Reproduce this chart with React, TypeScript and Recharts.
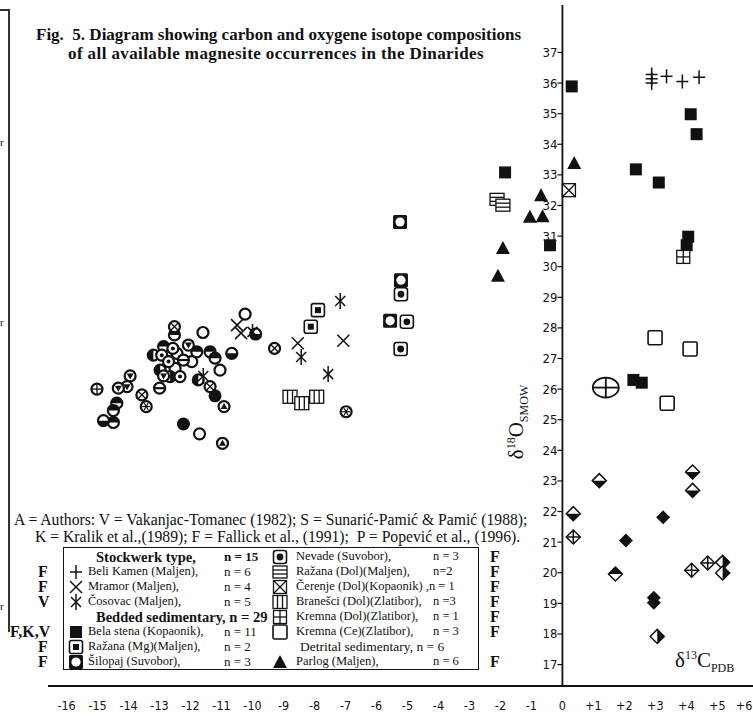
import React from 'react';
import { ScatterChart, Scatter, XAxis, YAxis, ReferenceLine } from 'recharts';

const W = 753;
const H = 719;
const X_MIN = -16.6;
const X_MAX = 6.15;
const Y_MIN = 16.3;
const Y_MAX = 38.55;
const PLOT_LEFT = 48;
const PLOT_TOP = 5;
const PLOT_BOTTOM = 686;
const X0_PX = PLOT_LEFT + ((0 - X_MIN) / (X_MAX - X_MIN)) * (W - PLOT_LEFT);

const xTicks = [-16, -15, -14, -13, -12, -11, -10, -9, -8, -7, -6, -5, -4, -3, -2, -1, 0, 1, 2, 3, 4, 5, 6];
const yTicks = [17, 18, 19, 20, 21, 22, 23, 24, 25, 26, 27, 28, 29, 30, 31, 32, 33, 34, 35, 36, 37];

// Stockwerk type
const beliKamen = [
  { x: 2.88, y: 36.28 }, { x: 2.88, y: 36.14 }, { x: 2.88, y: 36.0 },
  { x: 3.36, y: 36.22 }, { x: 3.87, y: 36.05 }, { x: 4.41, y: 36.19 },
];
const mramor = [{ x: -10.5, y: 28.09 }, { x: -10.37, y: 27.83 }, { x: -8.54, y: 27.5 }, { x: -7.07, y: 27.58 }];
const cosovac = [
  { x: -7.17, y: 28.88 }, { x: -8.43, y: 27.05 }, { x: -7.56, y: 26.49 }, { x: -11.59, y: 26.43 }, { x: -10.0, y: 27.87 },
];

// Bedded sedimentary
const belaStena = [
  { x: 0.3, y: 35.89 }, { x: 4.14, y: 34.98 }, { x: 4.33, y: 34.33 }, { x: 2.37, y: 33.18 },
  { x: 3.11, y: 32.75 }, { x: -1.85, y: 33.08 }, { x: 4.06, y: 30.98 }, { x: 4.01, y: 30.7 },
  { x: -0.4, y: 30.7 }, { x: 2.29, y: 26.3 }, { x: 2.56, y: 26.21 },
];
const razanaMg = [{ x: -7.89, y: 28.58 }, { x: -8.12, y: 28.04 }];
const silopaj = [{ x: -5.24, y: 31.46 }, { x: -5.21, y: 29.56 }, { x: -5.56, y: 28.23 }];
const nevade = [{ x: -5.21, y: 29.1 }, { x: -5.02, y: 28.2 }, { x: -5.22, y: 27.31 }];
const razanaDol = [{ x: -2.11, y: 32.2 }, { x: -1.92, y: 32.01 }];
const cerenje = [{ x: 0.21, y: 32.5 }];
const branesci = [{ x: -8.79, y: 25.75 }, { x: -8.41, y: 25.54 }, { x: -7.93, y: 25.75 }];
const kremnaDol = [{ x: 3.9, y: 30.32 }];
const kremnaCe = [{ x: 2.99, y: 27.68 }, { x: 4.12, y: 27.31 }, { x: 3.38, y: 25.54 }];

// Detrital sedimentary
const parlog = [
  { x: 0.38, y: 33.39 }, { x: -0.69, y: 32.33 }, { x: -1.05, y: 31.63 },
  { x: -0.64, y: 31.65 }, { x: -1.92, y: 30.61 }, { x: -2.08, y: 29.7 },
];

const meanPoint = [{ x: 1.4, y: 26.05 }];

// diamonds (lower right group)
const dBottomBlack = [{ x: 0.35, y: 21.93 }, { x: 1.19, y: 23.01 }, { x: 4.2, y: 23.29 }, { x: 4.2, y: 22.69 }];
const dTopBlack = [{ x: 1.71, y: 19.96 }];
const dCross = [{ x: 0.35, y: 21.17 }, { x: 4.17, y: 20.08 }, { x: 4.69, y: 20.32 }];
const dFilled = [{ x: 2.05, y: 21.05 }, { x: 3.25, y: 21.81 }, { x: 2.95, y: 19.18 }, { x: 2.95, y: 19.02 }];
const dRightBlack = [{ x: 3.06, y: 17.92 }, { x: 5.17, y: 20.34 }, { x: 5.17, y: 19.99 }];

// circles (left group)
const cOpen = [
  { x: -10.24, y: 28.45 }, { x: -11.6, y: 27.85 }, { x: -12.44, y: 27.17 }, { x: -11.96, y: 26.9 },
  { x: -12.5, y: 26.68 }, { x: -11.05, y: 26.62 }, { x: -11.71, y: 24.54 },
];
const cFilled = [{ x: -11.21, y: 25.78 }, { x: -12.23, y: 24.86 }];
const cHalfTop = [
  { x: -12.52, y: 27.77 }, { x: -12.87, y: 27.39 }, { x: -11.8, y: 27.22 }, { x: -14.38, y: 25.54 },
  { x: -14.49, y: 25.3 }, { x: -14.49, y: 24.91 }, { x: -11.37, y: 27.22 }, { x: -11.21, y: 27.01 },
];
const cHalfBottom = [{ x: -14.81, y: 24.97 }, { x: -10.67, y: 27.17 }, { x: -9.9, y: 27.8 }];
const cHalfLeft = [{ x: -13.2, y: 27.11 }, { x: -12.98, y: 26.62 }, { x: -11.75, y: 26.3 }];
const cHalfRight = [{ x: -12.66, y: 26.41 }];
const cDot = [{ x: -12.93, y: 27.11 }, { x: -12.57, y: 27.33 }, { x: -12.71, y: 26.9 }, { x: -12.34, y: 26.41 }];
const cTriDown = [
  { x: -12.07, y: 27.44 }, { x: -12.87, y: 26.43 }, { x: -13.95, y: 26.43 }, { x: -14.05, y: 26.08 }, { x: -14.33, y: 26.03 },
];
const cTriUp = [{ x: -10.92, y: 25.43 }, { x: -10.97, y: 24.23 }];
const cCross = [{ x: -15.02, y: 26.0 }];
const cXCross = [{ x: -12.52, y: 28.04 }, { x: -13.57, y: 25.81 }, { x: -11.37, y: 26.08 }, { x: -9.29, y: 27.33 }];
const cHbar = [{ x: -12.23, y: 26.95 }, { x: -13.0, y: 26.03 }];
const cStar = [{ x: -13.43, y: 25.43 }, { x: -6.98, y: 25.26 }];

const K = '#111';
const R = 5.5;

type ShapeFn = (cx: number, cy: number) => React.ReactElement;

const circ = (cx: number, cy: number, inner?: React.ReactNode) => (
  <g>
    <circle cx={cx} cy={cy} r={R} fill="#fff" stroke={K} strokeWidth={2.2} />
    {inner}
  </g>
);

const half = (cx: number, cy: number, side: string) => {
  let d = '';
  if (side === 'top') d = `M${cx - R},${cy} A${R},${R} 0 0 1 ${cx + R},${cy} Z`;
  if (side === 'bottom') d = `M${cx - R},${cy} A${R},${R} 0 0 0 ${cx + R},${cy} Z`;
  if (side === 'left') d = `M${cx},${cy - R} A${R},${R} 0 0 0 ${cx},${cy + R} Z`;
  if (side === 'right') d = `M${cx},${cy - R} A${R},${R} 0 0 1 ${cx},${cy + R} Z`;
  return circ(cx, cy, <path d={d} fill={K} />);
};

const diamond = (cx: number, cy: number, d = 7) => `${cx - d},${cy} ${cx},${cy - d} ${cx + d},${cy} ${cx},${cy + d}`;

const shapes: Record<string, ShapeFn> = {
  plus: (cx, cy) => (
    <g stroke={K} strokeWidth={1.5}>
      <line x1={cx - 6} x2={cx + 6} y1={cy} y2={cy} />
      <line x1={cx} x2={cx} y1={cy - 7} y2={cy + 7} />
    </g>
  ),
  cross: (cx, cy) => (
    <g stroke={K} strokeWidth={1.5}>
      <line x1={cx - 6} x2={cx + 6} y1={cy - 6} y2={cy + 6} />
      <line x1={cx - 6} x2={cx + 6} y1={cy + 6} y2={cy - 6} />
    </g>
  ),
  star: (cx, cy) => (
    <g stroke={K} strokeWidth={1.5}>
      <line x1={cx - 5} x2={cx + 5} y1={cy - 5} y2={cy + 5} />
      <line x1={cx - 5} x2={cx + 5} y1={cy + 5} y2={cy - 5} />
      <line x1={cx} x2={cx} y1={cy - 8} y2={cy + 8} />
    </g>
  ),
  filledSq: (cx, cy) => <rect x={cx - 6} y={cy - 6} width={12} height={12} fill={K} />,
  sqDotSq: (cx, cy) => (
    <g>
      <rect x={cx - 6.5} y={cy - 6.5} width={13} height={13} rx={2} fill="#fff" stroke={K} strokeWidth={1.6} />
      <rect x={cx - 3} y={cy - 3} width={6} height={6} fill={K} />
    </g>
  ),
  sqHole: (cx, cy) => (
    <g>
      <rect x={cx - 7} y={cy - 7} width={14} height={14} rx={1.5} fill={K} />
      <circle cx={cx} cy={cy} r={4.6} fill="#fff" />
    </g>
  ),
  sqDot: (cx, cy) => (
    <g>
      <rect x={cx - 6.5} y={cy - 6.5} width={13} height={13} rx={2.5} fill="#fff" stroke={K} strokeWidth={1.6} />
      <circle cx={cx} cy={cy} r={3.4} fill={K} />
    </g>
  ),
  sqHStripe: (cx, cy) => (
    <g stroke={K} strokeWidth={1.3}>
      <rect x={cx - 7} y={cy - 6} width={14} height={12} fill="#fff" />
      <line x1={cx - 7} x2={cx + 7} y1={cy - 2} y2={cy - 2} />
      <line x1={cx - 7} x2={cx + 7} y1={cy + 2} y2={cy + 2} />
    </g>
  ),
  sqX: (cx, cy) => (
    <g stroke={K} strokeWidth={1.3}>
      <rect x={cx - 6.5} y={cy - 6.5} width={13} height={13} fill="#fff" />
      <line x1={cx - 6.5} x2={cx + 6.5} y1={cy - 6.5} y2={cy + 6.5} />
      <line x1={cx - 6.5} x2={cx + 6.5} y1={cy + 6.5} y2={cy - 6.5} />
    </g>
  ),
  sqVStripe: (cx, cy) => (
    <g stroke={K} strokeWidth={1.3}>
      <rect x={cx - 7} y={cy - 6.5} width={14} height={13} fill="#fff" />
      <line x1={cx - 2.5} x2={cx - 2.5} y1={cy - 6.5} y2={cy + 6.5} />
      <line x1={cx + 2.5} x2={cx + 2.5} y1={cy - 6.5} y2={cy + 6.5} />
    </g>
  ),
  sqPlus: (cx, cy) => (
    <g stroke={K} strokeWidth={1.3}>
      <rect x={cx - 6.5} y={cy - 6.5} width={13} height={13} fill="#fff" />
      <line x1={cx - 6.5} x2={cx + 6.5} y1={cy} y2={cy} />
      <line x1={cx} x2={cx} y1={cy - 6.5} y2={cy + 6.5} />
    </g>
  ),
  sqOpen: (cx, cy) => (
    <rect x={cx - 7} y={cy - 7} width={14} height={14} rx={1.5} fill="#fff" stroke={K} strokeWidth={1.6} />
  ),
  triangle: (cx, cy) => <polygon points={`${cx - 7},${cy + 6} ${cx + 7},${cy + 6} ${cx},${cy - 7}`} fill={K} />,
  ellipse: (cx, cy) => (
    <g stroke={K} strokeWidth={1.8} fill="none">
      <ellipse cx={cx} cy={cy} rx={13} ry={10} />
      <line x1={cx - 13} x2={cx + 13} y1={cy} y2={cy} />
      <line x1={cx} x2={cx} y1={cy - 10} y2={cy + 10} />
    </g>
  ),
  dBottom: (cx, cy) => (
    <g>
      <polygon points={diamond(cx, cy)} fill="#fff" stroke={K} strokeWidth={1.5} />
      <polygon points={`${cx - 7},${cy} ${cx + 7},${cy} ${cx},${cy + 7}`} fill={K} />
    </g>
  ),
  dTop: (cx, cy) => (
    <g>
      <polygon points={diamond(cx, cy)} fill="#fff" stroke={K} strokeWidth={1.5} />
      <polygon points={`${cx - 7},${cy} ${cx + 7},${cy} ${cx},${cy - 7}`} fill={K} />
    </g>
  ),
  dRight: (cx, cy) => (
    <g>
      <polygon points={diamond(cx, cy)} fill="#fff" stroke={K} strokeWidth={1.5} />
      <polygon points={`${cx},${cy - 7} ${cx + 7},${cy} ${cx},${cy + 7}`} fill={K} />
    </g>
  ),
  dCross: (cx, cy) => (
    <g stroke={K} strokeWidth={1.5}>
      <polygon points={diamond(cx, cy)} fill="#fff" />
      <line x1={cx - 7} x2={cx + 7} y1={cy} y2={cy} />
      <line x1={cx} x2={cx} y1={cy - 7} y2={cy + 7} />
    </g>
  ),
  dFilled: (cx, cy) => <polygon points={diamond(cx, cy)} fill={K} />,
  cOpen: (cx, cy) => circ(cx, cy),
  cFilled: (cx, cy) => <circle cx={cx} cy={cy} r={R + 1} fill={K} />,
  cHalfTop: (cx, cy) => half(cx, cy, 'top'),
  cHalfBottom: (cx, cy) => half(cx, cy, 'bottom'),
  cHalfLeft: (cx, cy) => half(cx, cy, 'left'),
  cHalfRight: (cx, cy) => half(cx, cy, 'right'),
  cDot: (cx, cy) => circ(cx, cy, <circle cx={cx} cy={cy} r={2} fill={K} />),
  cTriDown: (cx, cy) => circ(cx, cy, <polygon points={`${cx - 3.5},${cy - 2.5} ${cx + 3.5},${cy - 2.5} ${cx},${cy + 3.5}`} fill={K} />),
  cTriUp: (cx, cy) => circ(cx, cy, <polygon points={`${cx - 3.5},${cy + 2.5} ${cx + 3.5},${cy + 2.5} ${cx},${cy - 3.5}`} fill={K} />),
  cCross: (cx, cy) => circ(cx, cy, (
    <g stroke={K} strokeWidth={1.3}>
      <line x1={cx - R} x2={cx + R} y1={cy} y2={cy} />
      <line x1={cx} x2={cx} y1={cy - R} y2={cy + R} />
    </g>
  )),
  cXCross: (cx, cy) => circ(cx, cy, (
    <g stroke={K} strokeWidth={1.3}>
      <line x1={cx - 3.9} x2={cx + 3.9} y1={cy - 3.9} y2={cy + 3.9} />
      <line x1={cx - 3.9} x2={cx + 3.9} y1={cy + 3.9} y2={cy - 3.9} />
    </g>
  )),
  cHbar: (cx, cy) => circ(cx, cy, <line x1={cx - R} x2={cx + R} y1={cy} y2={cy} stroke={K} strokeWidth={2.2} />),
  cStar: (cx, cy) => circ(cx, cy, (
    <g stroke={K} strokeWidth={1.2}>
      <line x1={cx - 4} x2={cx + 4} y1={cy} y2={cy} />
      <line x1={cx - 2} x2={cx + 2} y1={cy - 3.5} y2={cy + 3.5} />
      <line x1={cx - 2} x2={cx + 2} y1={cy + 3.5} y2={cy - 3.5} />
    </g>
  )),
};

const series: { name: string; data: { x: number; y: number }[]; shape: string }[] = [
  { name: 'cOpen', data: cOpen, shape: 'cOpen' },
  { name: 'cFilled', data: cFilled, shape: 'cFilled' },
  { name: 'cHalfTop', data: cHalfTop, shape: 'cHalfTop' },
  { name: 'cHalfBottom', data: cHalfBottom, shape: 'cHalfBottom' },
  { name: 'cHalfLeft', data: cHalfLeft, shape: 'cHalfLeft' },
  { name: 'cHalfRight', data: cHalfRight, shape: 'cHalfRight' },
  { name: 'cDot', data: cDot, shape: 'cDot' },
  { name: 'cTriDown', data: cTriDown, shape: 'cTriDown' },
  { name: 'cTriUp', data: cTriUp, shape: 'cTriUp' },
  { name: 'cCross', data: cCross, shape: 'cCross' },
  { name: 'cXCross', data: cXCross, shape: 'cXCross' },
  { name: 'cHbar', data: cHbar, shape: 'cHbar' },
  { name: 'cStar', data: cStar, shape: 'cStar' },
  { name: 'Beli Kamen', data: beliKamen, shape: 'plus' },
  { name: 'Mramor', data: mramor, shape: 'cross' },
  { name: 'Čosovac', data: cosovac, shape: 'star' },
  { name: 'Bela stena', data: belaStena, shape: 'filledSq' },
  { name: 'Ražana (Mg)', data: razanaMg, shape: 'sqDotSq' },
  { name: 'Šilopaj', data: silopaj, shape: 'sqHole' },
  { name: 'Nevade', data: nevade, shape: 'sqDot' },
  { name: 'Ražana (Dol)', data: razanaDol, shape: 'sqHStripe' },
  { name: 'Čerenje', data: cerenje, shape: 'sqX' },
  { name: 'Branešci', data: branesci, shape: 'sqVStripe' },
  { name: 'Kremna (Dol)', data: kremnaDol, shape: 'sqPlus' },
  { name: 'Kremna (Ce)', data: kremnaCe, shape: 'sqOpen' },
  { name: 'Parlog', data: parlog, shape: 'triangle' },
  { name: 'mean', data: meanPoint, shape: 'ellipse' },
  { name: 'dBottom', data: dBottomBlack, shape: 'dBottom' },
  { name: 'dTop', data: dTopBlack, shape: 'dTop' },
  { name: 'dCross', data: dCross, shape: 'dCross' },
  { name: 'dFilled', data: dFilled, shape: 'dFilled' },
  { name: 'dRight', data: dRightBlack, shape: 'dRight' },
];

const TICK_FONT = "'Liberation Sans Narrow', 'DejaVu Sans Condensed', 'Liberation Sans', sans-serif";

const XTick = ({ x, payload }: any) => (
  <text
    x={Math.min(x, W - 9)}
    y={PLOT_BOTTOM + 19}
    textAnchor="middle"
    dominantBaseline="central"
    fontSize={12.5}
    fontFamily={TICK_FONT}
    fill={K}
  >
    {payload.value > 0 ? `+${payload.value}` : payload.value}
  </text>
);

const YTick = ({ y, payload }: any) => (
  <g>
    <line x1={X0_PX - 5} x2={X0_PX} y1={y} y2={y} stroke={K} strokeWidth={1.2} />
    <text x={X0_PX - 5} y={y} textAnchor="end" dominantBaseline="central" fontSize={13} fontFamily={TICK_FONT} fill={K}>
      {payload.value}
    </text>
  </g>
);

const T = ({ x, y, size = 14, bold = false, spacing = 0, lh = 1, children }: any) => (
  <div
    style={{
      position: 'absolute', left: x, top: y, transform: 'translateY(-50%)', fontSize: size,
      fontWeight: bold ? 700 : 400, whiteSpace: 'pre', lineHeight: lh, color: K, letterSpacing: spacing,
    }}
  >
    {children}
  </div>
);

const Icon = ({ shape }: { shape: string }) => (
  <svg width={18} height={16} style={{ display: 'block' }}>
    {shapes[shape](9, 8)}
  </svg>
);

const ROWS = [557, 572, 587, 602, 617, 632, 647, 662];

const col1 = [
  { head: 'Stockwerk type,', n: 'n = 15' },
  { shape: 'plus', label: 'Beli Kamen (Maljen),', n: 'n = 6' },
  { shape: 'cross', label: 'Mramor (Maljen),', n: 'n = 4' },
  { shape: 'star', label: 'Čosovac (Maljen),', n: 'n = 5' },
  { head: 'Bedded sedimentary, n = 29' },
  { shape: 'filledSq', label: 'Bela stena (Kopaonik),', n: 'n = 11' },
  { shape: 'sqDotSq', label: 'Ražana (Mg)(Maljen),', n: 'n = 2' },
  { shape: 'sqHole', label: 'Šilopaj (Suvobor),', n: 'n = 3' },
];
const col2 = [
  { shape: 'sqDot', label: 'Nevade (Suvobor),', n: 'n = 3' },
  { shape: 'sqHStripe', label: 'Ražana (Dol)(Maljen),', n: 'n=2' },
  { shape: 'sqX', label: 'Čerenje (Dol)(Kopaonik) ,n = 1', n: '' },
  { shape: 'sqVStripe', label: 'Branešci (Dol)(Zlatibor),', n: 'n =3' },
  { shape: 'sqPlus', label: 'Kremna (Dol)(Zlatibor),', n: 'n = 1' },
  { shape: 'sqOpen', label: 'Kremna (Ce)(Zlatibor),', n: 'n = 3' },
  { head: 'Detrital sedimentary, n = 6' },
  { shape: 'triangle', label: 'Parlog (Maljen),', n: 'n = 6' },
];
const leftRefs = ['', 'F', 'F', 'V', '', 'F,K,V', 'F', 'F'];
const rightRefs = ['F', 'F', 'F', 'F', 'F', 'F', '', 'F'];

export default function App() {
  return (
    <div
      style={{
        position: 'absolute', left: 0, top: 0, width: W, height: H, background: '#fff',
        fontFamily: "'Liberation Serif', 'Times New Roman', serif", overflow: 'hidden',
      }}
    >
      <ScatterChart width={W} height={H} margin={{ top: PLOT_TOP, right: 0, bottom: 0, left: PLOT_LEFT - 1 }}>
        <XAxis
          type="number"
          dataKey="x"
          domain={[X_MIN, X_MAX]}
          ticks={xTicks}
          allowDataOverflow
          height={H - PLOT_BOTTOM}
          axisLine={{ stroke: K, strokeWidth: 2 }}
          tickLine={false}
          tick={<XTick />}
          interval={0}
        />
        <YAxis
          type="number"
          dataKey="y"
          domain={[Y_MIN, Y_MAX]}
          ticks={yTicks}
          allowDataOverflow
          width={1}
          axisLine={false}
          tickLine={false}
          tick={<YTick />}
          interval={0}
        />
        <ReferenceLine x={0} stroke={K} strokeWidth={1.8} />
        {series.map((s) => (
          <Scatter
            key={s.name}
            name={s.name}
            data={s.data}
            isAnimationActive={false}
            shape={(p: any) => shapes[s.shape](p.cx, p.cy)}
          />
        ))}
      </ScatterChart>

      {/* frame fragments on the left edge */}
      <div style={{ position: 'absolute', left: 0, top: 9, width: 9, height: 1.5, background: '#333' }} />
      <div style={{ position: 'absolute', left: 8, top: 9, width: 1.5, height: 623, background: '#333' }} />
      <T x={0} y={142} size={11}>r</T>
      <T x={0} y={322} size={11}>r</T>
      <T x={0} y={606} size={11}>r</T>

      <T x={36} y={34} size={17} bold>{'Fig.  5. Diagram showing carbon and oxygene isotope compositions'}</T>
      <T x={68} y={53} size={17} bold spacing={0.4}>of all available magnesite occurrences in the Dinarides</T>

      <div
        style={{
          position: 'absolute', left: 518, top: 422, transform: 'translate(-50%, -50%) rotate(-90deg)',
          fontSize: 21, whiteSpace: 'nowrap', color: K,
        }}
      >
        δ<sup style={{ fontSize: 12 }}>18</sup>O<sub style={{ fontSize: 12 }}>SMOW</sub>
      </div>
      <div style={{ position: 'absolute', left: 675, top: 648, fontSize: 21, whiteSpace: 'nowrap', color: K }}>
        δ<sup style={{ fontSize: 12 }}>13</sup>C<sub style={{ fontSize: 12 }}>PDB</sub>
      </div>

      <T x={14} y={520} size={15.7}>{'A = Authors: V = Vakanjac-Tomanec (1982); S = Sunarić-Pamić & Pamić (1988);'}</T>
      <T x={35} y={537} size={15.7}>{'K = Kralik et al.,(1989); F = Fallick et al., (1991);  P = Popević et al., (1996).'}</T>

      <div style={{ position: 'absolute', left: 63, top: 547, width: 416, height: 123, border: `1.5px solid ${K}`, boxSizing: 'border-box' }} />
      {col1.map((r, i) => (
        <React.Fragment key={`c1-${i}`}>
          {r.head ? (
            <T x={96} y={ROWS[i]} size={14.5} bold lh={0.85}>{r.head}</T>
          ) : (
            <>
              <div style={{ position: 'absolute', left: 67, top: ROWS[i] - 8 }}><Icon shape={r.shape as string} /></div>
              <T x={88} y={ROWS[i]} size={12.5} lh={0.9}>{r.label}</T>
            </>
          )}
          {r.n && <T x={224} y={ROWS[i]} size={13} bold={!!r.head} lh={0.9}>{r.n}</T>}
        </React.Fragment>
      ))}
      {col2.map((r, i) => (
        <React.Fragment key={`c2-${i}`}>
          {r.head ? (
            <T x={300} y={ROWS[i]} size={13.5} lh={0.9}>{r.head}</T>
          ) : (
            <>
              <div style={{ position: 'absolute', left: 271, top: ROWS[i] - 8 }}><Icon shape={r.shape as string} /></div>
              <T x={296} y={ROWS[i]} size={12.5} lh={0.9}>{r.label}</T>
            </>
          )}
          {r.n && <T x={433} y={ROWS[i]} size={12.5} lh={0.9}>{r.n}</T>}
        </React.Fragment>
      ))}
      {leftRefs.map((t, i) =>
        t ? (
          <T key={`l-${i}`} x={t.length > 1 ? 10 : 38} y={ROWS[i]} size={16} bold lh={0.8}>{t}</T>
        ) : null
      )}
      {rightRefs.map((t, i) =>
        t ? (
          <T key={`r-${i}`} x={490} y={ROWS[i]} size={16} bold lh={0.8}>{t}</T>
        ) : null
      )}
    </div>
  );
}
